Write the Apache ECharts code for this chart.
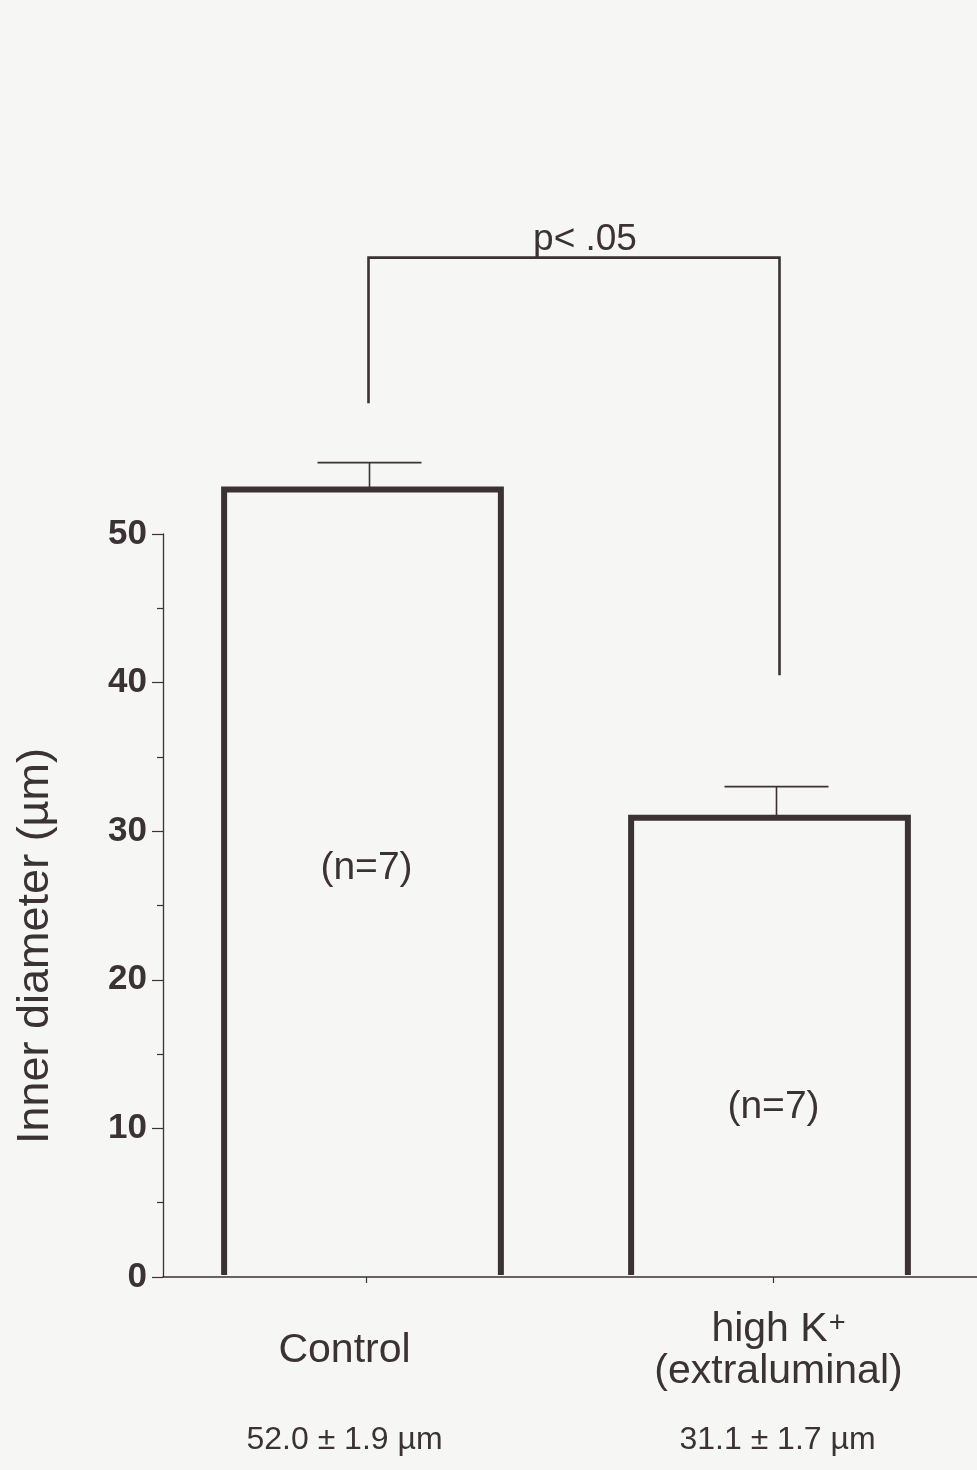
<!DOCTYPE html>
<html><head><meta charset="utf-8">
<script src="https://cdn.jsdelivr.net/npm/echarts@6/dist/echarts.min.js"></script>
<style>html,body{margin:0;padding:0;background:#f6f6f4}#c{width:977px;height:1470px}</style>
</head><body><div id="c"></div>
<script>
// ---- data ----
const categories = ['Control', 'high K+\n(extraluminal)'];
const meanValues = [53.0, 30.9];
const errorValues = [1.8, 2.1];
const summaryLabels = ['52.0 \u00b1 1.9 \u00b5m', '31.1 \u00b1 1.7 \u00b5m'];
const sampleLabels = ['(n=7)', '(n=7)'];
const sampleLabelLevels = [27.5, 11.4];
const bracketLevels = [58.8, 68.6, 40.5]; // left end, top, right end
const bracketText = 'p< .05';
const yTickLabels = ['0', '10', '20', '30', '40', '50'];
const yTitle = 'Inner diameter (\u00b5m)';

// ---- style ----
const INK = '#3b3236';
const FONT = '"Liberation Sans", Arial, Helvetica, sans-serif';

const chart = echarts.init(document.getElementById('c'), null, {renderer: 'canvas'});

function renderBar(params, api) {
  const i = api.value(0), v = api.value(1);
  const base = api.coord([i, 0]);
  const top = api.coord([i, v]);
  const half = api.size([1, 0])[0] * 0.34;
  const cx = top[0] - 4;
  return {
    type: 'polyline',
    shape: {points: [[cx - half, base[1] - 2], [cx - half, top[1]], [cx + half, top[1]], [cx + half, base[1] - 2]]},
    style: {stroke: INK, lineWidth: 6, fill: null, lineJoin: 'miter'}
  };
}

function renderError(params, api) {
  const i = api.value(0), v = api.value(1), e = api.value(2);
  const top = api.coord([i, v]);
  const hi = api.coord([i, v + e]);
  const capHalf = 52;
  const cx = top[0] + 3;
  return {
    type: 'group',
    children: [
      {type: 'line', shape: {x1: cx, y1: top[1], x2: cx, y2: hi[1]}, style: {stroke: INK, lineWidth: 1.6}},
      {type: 'line', shape: {x1: cx - capHalf, y1: hi[1], x2: cx + capHalf, y2: hi[1]}, style: {stroke: INK, lineWidth: 1.6}}
    ]
  };
}

function renderBracket(params, api) {
  const a = api.value(0), b = api.value(1);
  const pl = api.coord([a, api.value(2)]);
  const pt = api.coord([a, api.value(3)]);
  const pr = api.coord([b, api.value(4)]);
  const ptr = api.coord([b, api.value(3)]);
  const xl = pl[0] + 2, xr = pr[0] + 6;
  return {
    type: 'group',
    children: [
      {type: 'polyline', shape: {points: [[xl, pl[1]], [xl, pt[1]], [xr, ptr[1]], [xr, pr[1]]]},
       style: {stroke: INK, lineWidth: 2.6, fill: null}},
      {type: 'text', x: (xl + xr) / 2 + 11, y: pt[1] - 18,
       style: {text: bracketText, font: '37px ' + FONT, fill: INK, align: 'center', verticalAlign: 'middle'}}
    ]
  };
}

function renderSample(params, api) {
  const i = api.value(0);
  const p = api.coord([i, api.value(1)]);
  return {type: 'text', x: p[0], y: p[1],
    style: {text: sampleLabels[params.dataIndex], font: '39px ' + FONT, fill: INK, align: 'center', verticalAlign: 'middle'}};
}

const option = {
  backgroundColor: '#f6f6f4',
  animation: false,
  grid: {left: 163, top: 534, width: 818, bottom: 193},
  xAxis: {
    type: 'category',
    data: categories,
    boundaryGap: true,
    axisLine: {show: true, lineStyle: {color: INK, width: 1.5}},
    axisTick: {show: true, alignWithLabel: true, length: 6, lineStyle: {color: INK, width: 1.2}},
    axisLabel: {
      interval: 0,
      margin: 32,
      color: INK,
      formatter: function (v, i) {
        const lines = v.split('\n');
        let out;
        if (lines.length === 1) {
          out = '{n1|' + lines[0] + '}';
          return out + '\n{v1|' + summaryLabels[i] + '}';
        }
        out = lines.map(function (l) {
          return l.indexOf('K+') >= 0 ? '{n|' + l.replace('K+', 'K') + '}{sup|+}' : '{n|' + l + '}';
        }).join('\n');
        return out + '\n{v|' + summaryLabels[i] + '}';
      },
      rich: {
        n1: {fontFamily: FONT, fontSize: 41, color: INK, lineHeight: 84, padding: [0, 44, 0, 0]},
        n: {fontFamily: FONT, fontSize: 41, color: INK, lineHeight: 42, padding: [0, 0, 0, 10]},
        sup: {fontFamily: FONT, fontSize: 29, color: INK, lineHeight: 42, verticalAlign: 'top', padding: [0, 0, 16, 1]},
        v1: {fontFamily: FONT, fontSize: 32, color: INK, lineHeight: 94, padding: [0, 44, 0, 0]},
        v: {fontFamily: FONT, fontSize: 32, color: INK, lineHeight: 94, padding: [0, 0, 0, 8]}
      }
    }
  },
  yAxis: {
    type: 'value',
    min: 0, max: 50, interval: 10,
    axisLine: {show: true, lineStyle: {color: INK, width: 1.3}},
    axisTick: {show: true, length: 11, lineStyle: {color: INK, width: 1.2}},
    minorTick: {show: true, splitNumber: 2, length: 6, lineStyle: {color: INK, width: 1.2}},
    splitLine: {show: false},
    axisLabel: {
      margin: 16, color: INK, fontFamily: FONT, fontSize: 35, fontWeight: 'bold',
      formatter: function (v) { return yTickLabels[Math.round(v / 10)]; }
    }
  },
  graphic: [
    {type: 'text', x: 36, y: 946, rotation: Math.PI / 2,
     style: {text: yTitle, font: '45px ' + FONT, fill: INK, align: 'center', verticalAlign: 'middle'}}
  ],
  series: [
    {type: 'custom', renderItem: renderBar, data: meanValues.map(function (v, i) { return [i, v]; }), z: 3},
    {type: 'custom', renderItem: renderError, data: meanValues.map(function (v, i) { return [i, v, errorValues[i]]; }), z: 2},
    {type: 'custom', renderItem: renderBracket, data: [[0, 1, bracketLevels[0], bracketLevels[1], bracketLevels[2]]], z: 2},
    {type: 'custom', renderItem: renderSample, data: sampleLabelLevels.map(function (v, i) { return [i, v]; }), z: 4}
  ]
};
chart.setOption(option);
</script>
</body></html>
